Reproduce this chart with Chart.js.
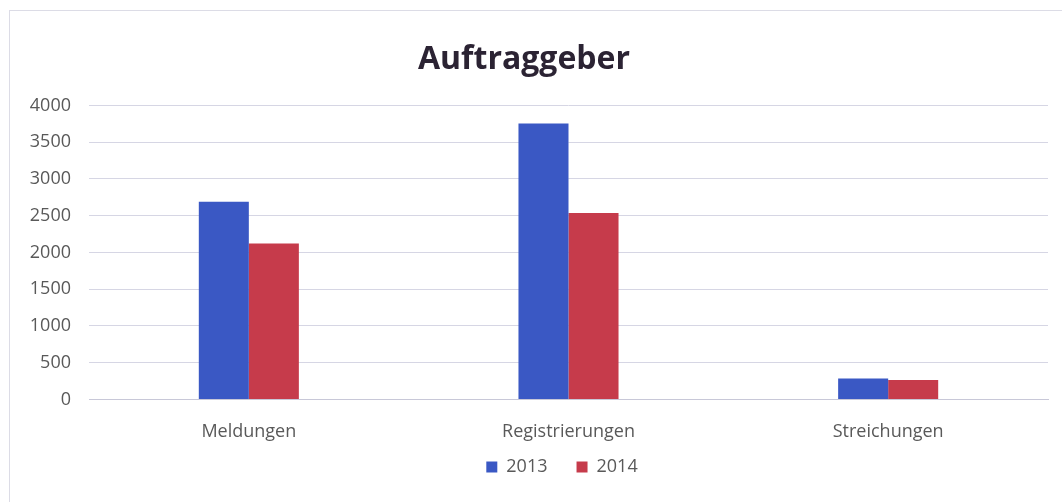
<!DOCTYPE html>
<html lang="de">
<head>
    <meta charset="UTF-8">
    <title>Auftraggeber</title>
    <script src="https://cdn.jsdelivr.net/npm/chart.js"></script>
    <style>
        html, body { margin: 0; padding: 0; background: #ffffff; }
        .wrap { width: 1062px; height: 502px; position: relative; }
    </style>
</head>
<body>
    <div class="wrap">
        <canvas id="reportChart"></canvas>
    </div>

    <script>
        // Chart data
        const categories = ['Meldungen', 'Registrierungen', 'Streichungen'];
        const years = ['2013', '2014'];
        const values2013 = [2690, 3755, 285];
        const values2014 = [2120, 2535, 265];
        const yTicks = [0, 500, 1000, 1500, 2000, 2500, 3000, 3500, 4000];

        // Light frame around the chart area
        const framePlugin = {
            id: 'frame',
            beforeDraw(chart) {
                const ctx = chart.ctx;
                ctx.save();
                ctx.strokeStyle = '#dcdce6';
                ctx.lineWidth = 1;
                ctx.strokeRect(9.5, 10.5, 1060, 500);
                ctx.restore();
            }
        };

        // Centre the legend under the plot area instead of the whole canvas
        const legendShift = {
            id: 'legendShift',
            afterLayout(chart) {
                const lg = chart.legend;
                const dx = 38;
                lg.left += dx;
                lg.right += dx;
            }
        };

        const ctx = document.getElementById('reportChart').getContext('2d');
        new Chart(ctx, {
            type: 'bar',
            data: {
                labels: categories,
                datasets: [
                    {
                        label: years[0],
                        data: values2013,
                        backgroundColor: '#3a58c4',
                        borderWidth: 0
                    },
                    {
                        label: years[1],
                        data: values2014,
                        backgroundColor: '#c63b4b',
                        borderWidth: 0
                    }
                ]
            },
            options: {
                responsive: true,
                maintainAspectRatio: false,
                animation: false,
                layout: {
                    padding: { left: 0, right: 14, top: 10, bottom: 16 }
                },
                datasets: {
                    bar: { barPercentage: 1.0, categoryPercentage: 0.313 }
                },
                plugins: {
                    title: {
                        display: true,
                        text: 'Auftraggeber',
                        color: '#2b2333',
                        font: { family: 'Open Sans', size: 32, weight: 'bold' },
                        padding: { top: 31, bottom: 26 }
                    },
                    legend: {
                        position: 'bottom',
                        labels: {
                            color: '#595959',
                            font: { family: 'Open Sans', size: 18 },
                            boxWidth: 11,
                            boxHeight: 11,
                            padding: 1,
                            generateLabels(chart) {
                                const items = Chart.defaults.plugins.legend.labels.generateLabels(chart);
                                // extra room after the first entry, as in the original legend
                                items[0].text = items[0].text + '      ';
                                return items;
                            }
                        }
                    },
                    tooltip: { enabled: false }
                },
                scales: {
                    x: {
                        grid: { display: false },
                        border: { color: '#c8c8d8' },
                        ticks: {
                            color: '#595959',
                            font: { family: 'Open Sans', size: 18 },
                            padding: 14
                        }
                    },
                    y: {
                        min: 0,
                        max: 4000,
                        afterBuildTicks(scale) {
                            scale.ticks = yTicks.map(v => ({ value: v }));
                        },
                        afterFit(scale) {
                            scale.width = 89;
                        },
                        grid: { color: '#d6d6e4', drawTicks: false },
                        border: { display: false },
                        ticks: {
                            color: '#595959',
                            font: { family: 'Open Sans', size: 18 },
                            padding: 18,
                            callback: v => String(v)
                        }
                    }
                }
            },
            plugins: [framePlugin, legendShift]
        });
    </script>
</body>
</html>
